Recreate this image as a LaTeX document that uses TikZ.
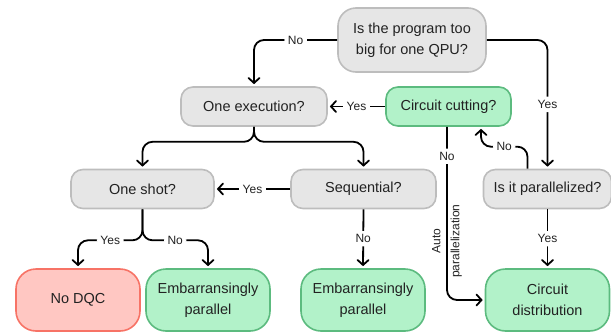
\documentclass[tikz,border=0pt]{standalone}
\usepackage{fontspec}
\setmainfont{Liberation Sans}
\usetikzlibrary{arrows.meta}
\definecolor{grayfill}{HTML}{E6E6E6}
\definecolor{grayline}{HTML}{BDBDBD}
\definecolor{greenfill}{HTML}{B2F2C9}
\definecolor{greenline}{HTML}{5CBB7F}
\definecolor{redfill}{HTML}{FFC7C2}
\definecolor{redline}{HTML}{F77366}
\definecolor{txt}{HTML}{222222}
\begin{document}
\begin{tikzpicture}[x=1pt,y=-1pt,
  box/.style={draw, line width=1.6pt, rounded corners=12pt, align=center,
    font=\fontsize{14.5}{21}\selectfont, text=txt, inner sep=0pt},
  qgray/.style={box, fill=grayfill, draw=grayline, minimum height=39pt},
  qgreen/.style={box, fill=greenfill, draw=greenline, minimum height=39pt},
  leafgreen/.style={box, fill=greenfill, draw=greenline, minimum width=124pt,
    minimum height=62pt, rounded corners=20pt},
  leafred/.style={box, fill=redfill, draw=redline, minimum width=124pt,
    minimum height=62pt, rounded corners=20pt},
  conn/.style={draw=black, line width=1.8pt, rounded corners=10pt,
    -{Straight Barb[length=5pt,width=11pt,line cap=round]}, shorten >=2pt},
  lab/.style={fill=white, font=\fontsize{12}{13}\selectfont, inner sep=3.5pt, text=txt},
  rlab/.style={font=\fontsize{12}{19}\selectfont, text=txt, rotate=90, align=center, inner sep=0pt}
]
\useasboundingbox (0,0) rectangle (611,335);

\node[qgray, minimum width=148pt, minimum height=64pt, rounded corners=18pt] (big) at (412,40) {Is the program too\\big for one QPU?};
\node[qgray, minimum width=146pt] (oe) at (254,106.5) {One execution?};
\node[qgreen, minimum width=125pt] (cc) at (448.5,106.5) {Circuit cutting?};
\node[qgray, minimum width=143pt] (os) at (142.5,189) {One shot?};
\node[qgray, minimum width=145pt] (seq) at (363.5,189) {Sequential?};
\node[qgray, minimum width=128pt] (par) at (547.5,189) {Is it parallelized?};
\node[leafred] (nodqc) at (78,300) {No DQC};
\node[leafgreen] (ep1) at (208,300) {Embarransingly\\parallel};
\node[leafgreen] (ep2) at (363,300) {Embarransingly\\parallel};
\node[leafgreen] (cd) at (547.5,300) {Circuit\\distribution};

\draw[conn] (big.west) -| node[lab, pos=0.25]{No} (oe.north);
\draw[conn] (big.east) -| node[lab, pos=0.75]{Yes} (par.north);
\draw[conn] (cc.west) -- node[lab]{Yes} (oe.east);
\draw[conn] (oe.south) -- ++(0,15) -| (os.north);
\draw[conn] (oe.south) -- ++(0,15) -| (seq.north);
\draw[conn] (seq.west) -- node[lab]{Yes} (os.east);
\draw[conn] (os.south) -- ++(0,31) -| node[lab, pos=0.25]{Yes} (nodqc.north);
\draw[conn] (os.south) -- ++(0,31) -| node[lab, pos=0.25]{No} (ep1.north);
\draw[conn] (seq.south) -- node[lab]{No} (ep2.north);
\draw[conn] (par.south) -- node[lab]{Yes} (cd.north);
\draw[conn] ([xshift=-20pt]par.north) -- ++(0,-22) -| node[lab, pos=0.25]{No} ([xshift=32.5pt]cc.south);
\draw[conn] ([xshift=-1.5pt]cc.south) |- node[lab, pos=0.085]{No} node[rlab, pos=0.33]{Auto\\parallelization} (cd.west);
\end{tikzpicture}
\end{document}
